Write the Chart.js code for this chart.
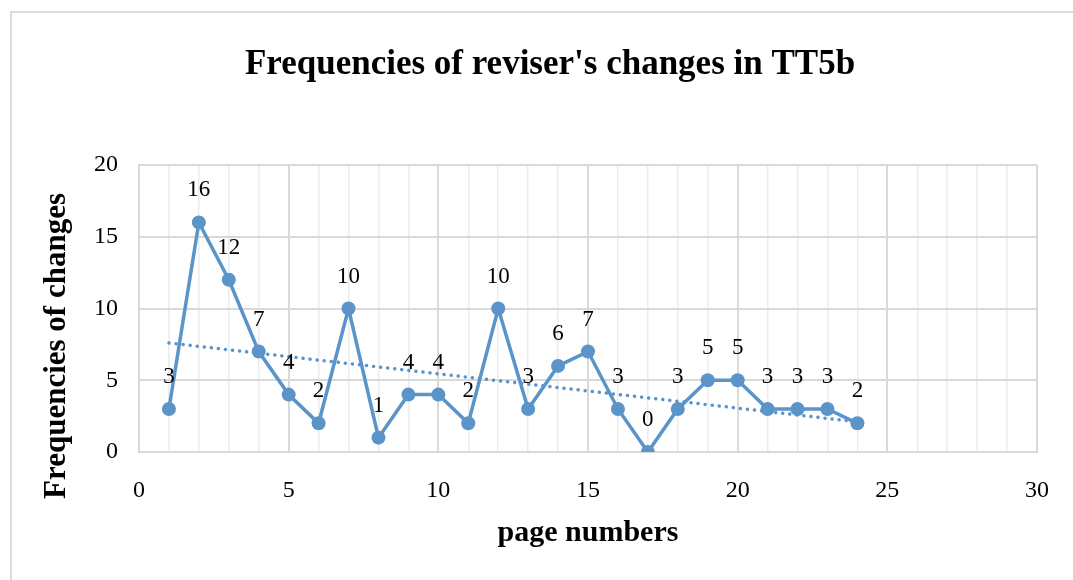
<!DOCTYPE html>
<html>
<head>
<meta charset="utf-8">
<script src="https://cdn.jsdelivr.net/npm/chart.js@4"></script>
<style>
  html, body { margin: 0; padding: 0; background: #fff; }
  #wrap { width: 1073px; height: 580px; position: relative; }
</style>
</head>
<body>
<div id="wrap"><canvas id="myChart"></canvas></div>
<script>
const pages = [1, 2, 3, 4, 5, 6, 7, 8, 9, 10, 11, 12, 13, 14, 15, 16, 17, 18, 19, 20, 21, 22, 23, 24];
const changes = [3, 16, 12, 7, 4, 2, 10, 1, 4, 4, 2, 10, 3, 6, 7, 3, 0, 3, 5, 5, 3, 3, 3, 2];
// dotted linear trend line, end points
const trendX = [1, 24];
const trendY = [7.6, 2.1];
const xTicks = [0, 5, 10, 15, 20, 25, 30];
const yTicks = [0, 5, 10, 15, 20];

const titleText = "Frequencies of reviser's changes in TT5b";
const xTitle = 'page numbers';
const yTitle = 'Frequencies of changes';
const blue = '#5b94c9';
const serif = '"Liberation Serif", "Times New Roman", serif';

//draws the frame, titles and the value labels
const extras = {
    id: 'extras',
    beforeDraw(chart) {
        const c = chart.ctx;
        c.save();
        c.fillStyle = '#fff';
        c.fillRect(0, 0, chart.width, chart.height);
        c.strokeStyle = '#dcdcdc';
        c.lineWidth = 2;
        c.beginPath();
        c.moveTo(11, chart.height);
        c.lineTo(11, 12);
        c.lineTo(chart.width, 12);
        c.stroke();
        c.restore();
    },
    afterDatasetsDraw(chart) {
        const c = chart.ctx;
        const area = chart.chartArea;
        c.save();
        c.fillStyle = '#000';
        c.textAlign = 'center';
        c.textBaseline = 'middle';
        // value labels
        c.font = '23px ' + serif;
        chart.getDatasetMeta(0).data.forEach((pt, i) => {
            c.fillText(String(changes[i]), pt.x, pt.y - 32);
        });
        // chart title
        c.font = 'bold 35px ' + serif;
        c.fillText(titleText, 550, 65);
        // x title
        c.font = 'bold 30px ' + serif;
        c.fillText(xTitle, (area.left + area.right) / 2, 533);
        // y title
        c.translate(57, 346);
        c.rotate(-Math.PI / 2);
        c.font = 'bold 31px ' + serif;
        c.fillText(yTitle, 0, 0);
        c.restore();
    }
};

const config = {
    type: 'line',
    data: {
        datasets: [{
            label: 'changes',
            data: pages.map((p, i) => ({ x: p, y: changes[i] })),
            borderColor: blue,
            backgroundColor: blue,
            borderWidth: 3.5,
            pointRadius: 7,
            pointHoverRadius: 7,
            pointBorderWidth: 0,
            tension: 0,
            order: 1
        }, {
            label: 'trend',
            data: trendX.map((x, i) => ({ x: x, y: trendY[i] })),
            borderColor: blue,
            borderWidth: 3.5,
            borderDash: [0.1, 7],
            borderCapStyle: 'round',
            pointRadius: 0,
            order: 2
        }]
    },
    options: {
        responsive: true,
        maintainAspectRatio: false,
        animation: false,
        layout: { padding: { left: 69, top: 165, right: 31, bottom: 68 } },
        plugins: {
            legend: { display: false },
            tooltip: { enabled: false },
            title: { display: false }
        },
        scales: {
            x: {
                type: 'linear',
                min: 0,
                max: 30,
                afterFit: (s) => { s.height = 60; },
                afterBuildTicks: (s) => {
                    const t = [];
                    for (let v = 0; v <= 30; v++) t.push({ value: v });
                    s.ticks = t;
                },
                ticks: {
                    autoSkip: false,
                    maxRotation: 0,
                    padding: 24,
                    color: '#000',
                    font: { family: serif, size: 24 },
                    callback: (v) => xTicks.includes(v) ? String(v) : ''
                },
                grid: {
                    drawTicks: false,
                    color: (ctx) => ctx.tick && ctx.tick.value % 5 === 0 ? '#d9d9d9' : '#ececec',
                    lineWidth: (ctx) => ctx.tick && ctx.tick.value % 5 === 0 ? 2 : 1.5
                },
                border: { color: '#d9d9d9', width: 2 }
            },
            y: {
                min: 0,
                max: 20,
                afterFit: (s) => { s.width = 70; },
                afterBuildTicks: (s) => { s.ticks = yTicks.map(v => ({ value: v })); },
                ticks: {
                    padding: 21,
                    color: '#000',
                    font: { family: serif, size: 24 }
                },
                grid: { drawTicks: false, color: '#d9d9d9', lineWidth: 2 },
                border: { color: '#d9d9d9', width: 2 }
            }
        }
    },
    plugins: [extras]
};

new Chart(document.getElementById('myChart'), config);
</script>
</body>
</html>
